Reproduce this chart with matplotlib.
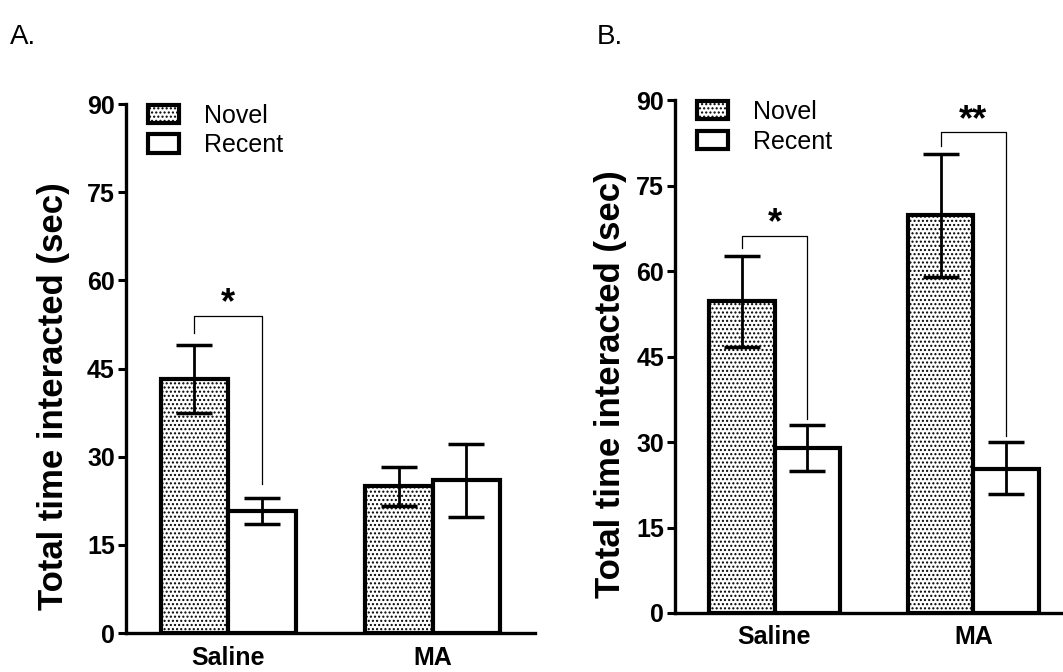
import numpy as np
import matplotlib.pyplot as plt

plt.rcParams['font.family'] = ['Liberation Sans', 'DejaVu Sans']
plt.rcParams['hatch.linewidth'] = 1.0

groups = ['Saline', 'MA']
series = ['Novel', 'Recent']

# panel A
a_novel = [43.3, 25.0]
a_novel_hi = [49.0, 28.3]
a_novel_lo = [37.5, 21.7]
a_recent = [20.7, 26.0]
a_recent_hi = [23.0, 32.2]
a_recent_lo = [18.5, 19.8]

# panel B
b_novel = [54.7, 69.8]
b_novel_hi = [62.7, 80.5]
b_novel_lo = [46.7, 59.0]
b_recent = [29.0, 25.3]
b_recent_hi = [33.0, 30.0]
b_recent_lo = [25.0, 20.8]

yticks = [0, 15, 30, 45, 60, 75, 90]

fig = plt.figure(figsize=(10.63, 6.72), dpi=100)
axA = fig.add_axes([0.1185, 0.058, 0.3848, 0.787])
axB = fig.add_axes([0.635, 0.0878, 0.3744, 0.763])

w = 0.33


def panel(ax, nov, nhi, nlo, rec, rhi, rlo, lab_x):
    x = np.arange(len(groups))
    xn = x - w / 2
    xr = x + w / 2
    ax.bar(xn, nov, w, facecolor='white', edgecolor='black', linewidth=3,
           hatch='....', label='Novel', zorder=2)
    ax.bar(xr, rec, w, facecolor='white', edgecolor='black', linewidth=3,
           label='Recent', zorder=2)
    for xs, v, hi, lo in [(xn, nov, nhi, nlo), (xr, rec, rhi, rlo)]:
        v = np.array(v)
        err = [v - np.array(lo), np.array(hi) - v]
        ax.errorbar(xs, v, yerr=err, fmt='none', ecolor='black', elinewidth=2,
                    capsize=13, capthick=2.5, zorder=3)
    ax.set_xlim(-0.5, 1.5)
    ax.set_ylim(0, 90)
    ax.set_yticks(yticks)
    ax.set_xticks(x)
    ax.set_xticklabels(groups, fontsize=18, fontweight='bold')
    ax.tick_params(axis='x', length=0, pad=9)
    ax.tick_params(axis='y', width=2.2, length=6, labelsize=18, pad=2)
    for lab in ax.get_yticklabels():
        lab.set_fontweight('bold')
    for s in ['top', 'right']:
        ax.spines[s].set_visible(False)
    for s in ['left', 'bottom']:
        ax.spines[s].set_linewidth(2.4)
    ax.set_ylabel('Total time interacted (sec)', fontsize=25, fontweight='bold')
    ax.yaxis.set_label_coords(lab_x, 0.447)
    ax.legend(loc='upper left', bbox_to_anchor=(0.03, 1.02), frameon=False,
              fontsize=18, handlelength=1.25, handleheight=0.75,
              handletextpad=1.0, labelspacing=0.22, borderaxespad=0)
    return xn, xr


def bracket(ax, x1, x2, ytop, yl, yr, stars):
    ax.plot([x1, x1, x2, x2], [yl, ytop, ytop, yr], color='black', lw=0.9,
            zorder=1)
    ax.text((x1 + x2) / 2, ytop - 1.0, stars, ha='center', va='bottom',
            fontsize=26, fontweight='bold')


xn, xr = panel(axA, a_novel, a_novel_hi, a_novel_lo, a_recent, a_recent_hi,
               a_recent_lo, -0.137)
bracket(axA, xn[0], xr[0], 54, 51, 25.3, '*')

xn, xr = panel(axB, b_novel, b_novel_hi, b_novel_lo, b_recent, b_recent_hi,
               b_recent_lo, -0.12)
bracket(axB, xn[0], xr[0], 66.2, 64, 34, '*')
bracket(axB, xn[1], xr[1], 84.4, 82, 31, '**')

fig.text(0.009, 0.935, 'A.', fontsize=20)
fig.text(0.561, 0.935, 'B.', fontsize=20)

fig.savefig('out.png', dpi=100)
